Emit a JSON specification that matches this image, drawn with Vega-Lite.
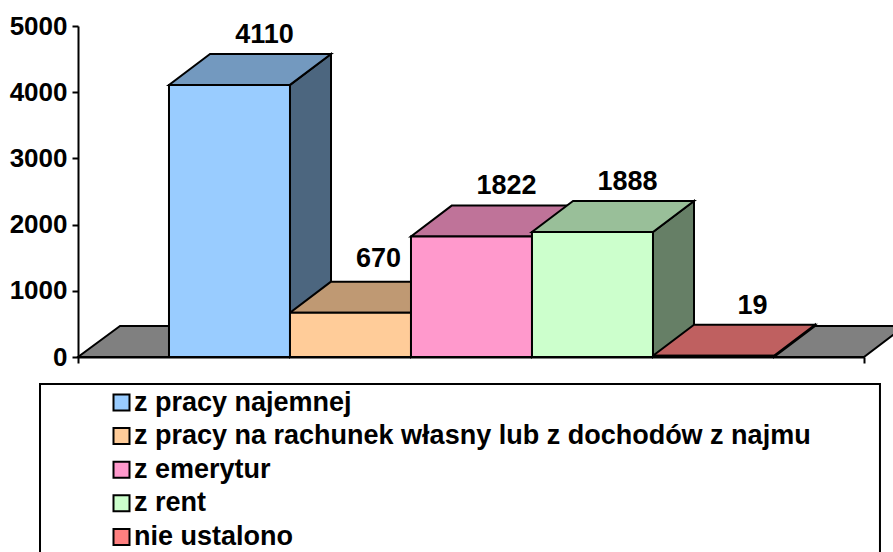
{
"$schema":"https://vega.github.io/schema/vega-lite/v6.json",
"width":786,"height":331,
"autosize":{"type":"none"},
"padding":{"left":78,"right":29,"top":26,"bottom":195},
"background":"white",
"config":{"view":{"stroke":null},"font":"Liberation Sans"},
"datasets":{
 "bars":[
  {"zrodlo":"z pracy najemnej","liczba":4110},
  {"zrodlo":"z pracy na rachunek własny lub z dochodów z najmu","liczba":670},
  {"zrodlo":"z emerytur","liczba":1822},
  {"zrodlo":"z rent","liczba":1888},
  {"zrodlo":"nie ustalono","liczba":19}],
 "floor":[{"glebokosc":0,"od":-0.752,"do":5.744},{"glebokosc":468,"od":-0.405,"do":6.083}]
},
"layer":[
 {"data":{"name":"floor"},
  "mark":{"type":"area","orient":"horizontal","fill":"#808080","stroke":"black","strokeWidth":2,"clip":false},
  "encoding":{
   "y":{"field":"glebokosc","type":"quantitative","scale":{"domain":[0,5000],"nice":false},
     "axis":{"title":null,"values":[0,1000,2000,3000,4000,5000],"format":"d","grid":false,"domainColor":"black","domainWidth":2,"tickColor":"black","tickWidth":2,"tickSize":6,"labelFont":"Liberation Sans","labelFontWeight":"bold","labelFontSize":26,"labelColor":"black","labelPadding":5,"zindex":1}},
   "x":{"field":"od","type":"quantitative","scale":{"domain":[-0.752,5.744],"nice":false,"zero":false},
     "axis":{"title":null,"values":[-0.752,5.744],"labels":false,"grid":false,"domainColor":"black","domainWidth":2,"tickColor":"black","tickWidth":2,"tickSize":6,"zindex":1}},
   "x2":{"field":"do"}
  }},
 {"data":{"name":"bars"},
  "transform":[{"window":[{"op":"row_number","as":"n"}]},{"calculate":"[0,1]","as":"k"},{"flatten":["k"]},
   {"calculate":"datum.n+0.339*datum.k","as":"xs"},{"calculate":"468*datum.k","as":"y0"},{"calculate":"datum.liczba+468*datum.k","as":"y1"}],
  "mark":{"type":"area","orient":"vertical","stroke":"black","strokeWidth":2},
  "encoding":{
   "x":{"field":"xs","type":"quantitative"},
   "y":{"field":"y0","type":"quantitative"},
   "y2":{"field":"y1"},
   "fill":{"field":"zrodlo","type":"nominal","sort":null,"legend":null,"scale":{"range":["#4C667F","#7F664C","#7F4C66","#667F66","#7F4040"]}}
  }},
 {"data":{"name":"bars"},
  "transform":[{"window":[{"op":"row_number","as":"n"}]},{"calculate":"[0,1]","as":"k"},{"flatten":["k"]},
   {"calculate":"datum.n-1+0.339*datum.k","as":"xa"},{"calculate":"datum.n+0.339*datum.k","as":"xb"},{"calculate":"datum.liczba+468*datum.k","as":"y1"}],
  "mark":{"type":"area","orient":"horizontal","stroke":"black","strokeWidth":2},
  "encoding":{
   "y":{"field":"y1","type":"quantitative"},
   "x":{"field":"xa","type":"quantitative"},
   "x2":{"field":"xb"},
   "fill":{"field":"zrodlo","type":"nominal","sort":null,"legend":null,"scale":{"range":["#7399BF","#BF9973","#BF7399","#99BF99","#BF6060"]}}
  }},
 {"data":{"name":"bars"},
  "transform":[{"window":[{"op":"row_number","as":"n"}]},{"calculate":"datum.n-1","as":"xa"}],
  "mark":{"type":"rect","stroke":"black","strokeWidth":2},
  "encoding":{
   "x":{"field":"xa","type":"quantitative"},
   "x2":{"field":"n"},
   "y":{"field":"liczba","type":"quantitative"},
   "y2":{"datum":0},
   "fill":{"field":"zrodlo","type":"nominal","sort":null,"scale":{"range":["#99CCFF","#FFCC99","#FF99CC","#CCFFCC","#FF8080"]},
    "legend":{"title":null,"orient":"none","legendX":30,"legendY":363,"symbolType":"square","symbolSize":256,"symbolStrokeColor":"black","symbolStrokeWidth":2,"labelFont":"Liberation Sans","labelFontWeight":"bold","labelFontSize":27,"labelColor":"black","labelLimit":800,"labelOffset":-1,"rowPadding":5.6,"padding":0}}
  }},
 {"data":{"name":"bars"},
  "transform":[{"window":[{"op":"row_number","as":"n"}]},{"calculate":"datum.n-0.5+0.29","as":"xt"},{"calculate":"datum.liczba+468","as":"y1"},{"filter":"datum.liczba != 670 && datum.liczba != 19"}],
  "mark":{"type":"text","font":"Liberation Sans","fontWeight":"bold","fontSize":27,"fill":"black","baseline":"middle","dy":-19},
  "encoding":{
   "x":{"field":"xt","type":"quantitative"},
   "y":{"field":"y1","type":"quantitative"},
   "text":{"field":"liczba","type":"quantitative","format":"d"}
  }},
 {"data":{"name":"bars"},
  "transform":[{"window":[{"op":"row_number","as":"n"}]},{"calculate":"datum.n-0.5+0.29","as":"xt"},{"calculate":"datum.liczba+468","as":"y1"},{"filter":"datum.liczba == 670"}],
  "mark":{"type":"text","font":"Liberation Sans","fontWeight":"bold","fontSize":27,"fill":"black","baseline":"middle","dy":-23,"dx":-7},
  "encoding":{
   "x":{"field":"xt","type":"quantitative"},
   "y":{"field":"y1","type":"quantitative"},
   "text":{"field":"liczba","type":"quantitative","format":"d"}
  }},
 {"data":{"name":"bars"},
  "transform":[{"window":[{"op":"row_number","as":"n"}]},{"calculate":"datum.n-0.5+0.29","as":"xt"},{"calculate":"datum.liczba+468","as":"y1"},{"filter":"datum.liczba == 19"}],
  "mark":{"type":"text","font":"Liberation Sans","fontWeight":"bold","fontSize":27,"fill":"black","baseline":"middle","dy":-19,"dx":4},
  "encoding":{
   "x":{"field":"xt","type":"quantitative"},
   "y":{"field":"y1","type":"quantitative"},
   "text":{"field":"liczba","type":"quantitative","format":"d"}
  }},
 {"data":{"values":[{"ramka":"legenda"}]},
  "mark":{"type":"rect","fill":null,"stroke":"black","strokeWidth":2,"clip":false},
  "encoding":{
   "x":{"datum":-1.066,"type":"quantitative"},
   "x2":{"datum":5.876},
   "y":{"datum":-408,"type":"quantitative"},
   "y2":{"datum":-3050}
  }}
],
"resolve":{"scale":{"fill":"independent"}}
}
